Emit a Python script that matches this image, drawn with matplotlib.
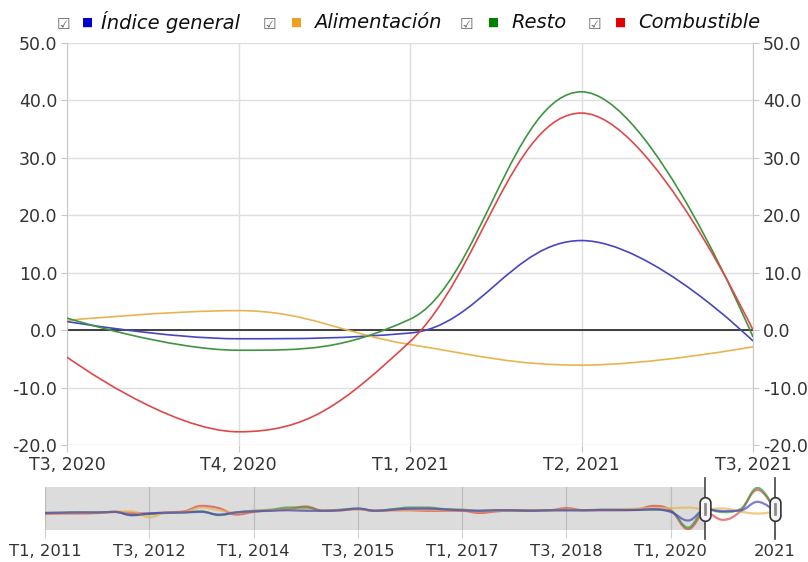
import matplotlib
matplotlib.use("Agg")
import matplotlib.pyplot as plt
import matplotlib.transforms as mtransforms
from matplotlib.path import Path
from matplotlib.patches import PathPatch
import numpy as np

# ---- data -------------------------------------------------------------
main_labels = ["T3, 2020", "T4, 2020", "T1, 2021", "T2, 2021", "T3, 2021"]
series_names = ["Índice general", "Alimentación", "Resto", "Combustible"]
series_colors = ["#4646c0", "#e8b450", "#3f943f", "#de4848"]
legend_colors = ["#0000cc", "#f0a020", "#008000", "#e00000"]

# quarterly history T1 2011 .. T3 2021 (43 quarters), read from navigator
indice_general = [-5, -4.5, -4, -4, -3, -9, -6, -4.5, -4, -3, -8, -4, -2, -1, 0,
                  -1, -1, 0, 3, -1, 1, 3, 3, 1.5, 0, -1, 0, -0.5, -1, 0,
                  0, 0, 0.5, 0.5, 0.5, 2, -3, -19, 1.5, -1.5, -0.5, 15.6, -1.9]
alimentacion = [-6, -5, -5, -4, -3, -2, -13, -4, -3, 5, 0, -5, -1, 0, 1,
                0, -1, 0, 2, -1, 0, 1, 1, 0, 0, -2, -1, -1, -0.5, 0,
                1, 0, 0.5, 1, 3, 4, 4, 5, 1.7, 3.4, -2.5, -6.1, -2.9]
resto = [-5, -4.5, -4, -4, -3, -9, -7, -5, -4, -2, -9, -4, -1, 1, 5,
         5, -1, 1, 3, -1, 2, 5, 5, 2, 1, -1, 0, 0, -1, 0,
         0, 0, 1, 1, 1, 1, -2, -32, 2.1, -3.5, 1.9, 41.5, -1.2]
combustible = [-7, -6, -6, -5, -3, -5, -6, -4, -2, 8, 4, -8, -3, 0, 2,
               7, -1, 0, 2, -1, 0, 0, -1, -1, -1, -5, -2, 0, 0, 0,
               4, 0, 0, 0, 1, 8, 0, -35, -4.7, -17.7, -2.0, 37.8, 0.0]
all_series = [indice_general, alimentacion, resto, combustible]

nav_labels = ["T1, 2011", "T3, 2012", "T1, 2014", "T3, 2015",
              "T1, 2017", "T3, 2018", "T1, 2020", "2021"]
nav_ticks = [0, 6, 12, 18, 24, 30, 36, 42]
window_start = 38   # T3 2020
window_end = 42     # T3 2021

W, H = 808, 562


def spline_path(xs, ys, smoothing=1.5):
    # highcharts style bezier spline through the points
    n = len(xs)
    left = [(xs[0], ys[0])] * n
    right = [(xs[0], ys[0])] * n
    left[-1] = (xs[-1], ys[-1])
    denom = smoothing + 1
    for i in range(1, n - 1):
        px, py = xs[i], ys[i]
        lx, ly = xs[i - 1], ys[i - 1]
        nx, ny = xs[i + 1], ys[i + 1]
        lcx = (smoothing * px + lx) / denom
        lcy = (smoothing * py + ly) / denom
        rcx = (smoothing * px + nx) / denom
        rcy = (smoothing * py + ny) / denom
        corr = ((rcy - lcy) * (rcx - px)) / (rcx - lcx) + py - rcy
        lcy += corr
        rcy += corr
        if lcy > ly and lcy > py:
            lcy = max(ly, py)
            rcy = 2 * py - lcy
        elif lcy < ly and lcy < py:
            lcy = min(ly, py)
            rcy = 2 * py - lcy
        if rcy > ny and rcy > py:
            rcy = max(ny, py)
            lcy = 2 * py - rcy
        elif rcy < ny and rcy < py:
            rcy = min(ny, py)
            lcy = 2 * py - rcy
        left[i] = (lcx, lcy)
        right[i] = (rcx, rcy)
    verts = [(xs[0], ys[0])]
    codes = [Path.MOVETO]
    for i in range(1, n):
        verts += [right[i - 1], left[i], (xs[i], ys[i])]
        codes += [Path.CURVE4] * 3
    return Path(verts, codes)


fig = plt.figure(figsize=(W / 100, H / 100), dpi=100)
plt.rcParams['font.family'] = ['DejaVu Sans']


def box(x0, y0, x1, y1):
    return [x0 / W, 1 - y1 / H, (x1 - x0) / W, (y1 - y0) / H]


# ---- main chart -------------------------------------------------------
ax = fig.add_axes(box(67, 43, 753, 445))
xm = np.arange(len(main_labels))
for vals, col in zip(all_series, series_colors):
    ym = vals[window_start:window_end + 1]
    ax.add_patch(PathPatch(spline_path(xm, ym), fill=False, edgecolor=col, lw=1.2, zorder=3))
ax.axhline(0, color="#222222", lw=1.2, zorder=2)
ax.set_xlim(0, 4)
ax.set_ylim(-20, 50)
ax.set_yticks(np.arange(-20, 51, 10))
ax.set_yticklabels([f"{v:.1f}" for v in np.arange(-20, 51, 10)])
ax.set_xticks(xm)
ax.set_xticklabels(main_labels)
ax.grid(True, color="#dedede", lw=1)
ax.set_axisbelow(True)
for s in ["top", "bottom"]:
    ax.spines[s].set_visible(False)
for s in ["left", "right"]:
    ax.spines[s].set_color("#c8c8c8")
ax.tick_params(axis="y", which="both", left=True, right=True, labelleft=True,
               labelright=True, length=4, pad=3, colors="#c8c8c8",
               labelcolor="#333333", labelsize=12.5)
ax.tick_params(axis="x", length=5, pad=3, colors="#c8c8c8",
               labelcolor="#333333", labelsize=12.5)

# ---- legend -----------------------------------------------------------
legend_pos = [(57, 82, 101), (263, 291, 314), (460, 488, 511), (588, 615, 638)]
for (cx, sx, tx), name, col in zip(legend_pos, series_names, legend_colors):
    fig.text(cx / W, 1 - 24 / H, "☑", fontsize=11, color="#666666", va="center")
    fig.text(sx / W, 1 - 22 / H, "■", fontsize=8.5, color=col, va="center")
    fig.text(tx / W, 1 - 22 / H, name, fontsize=14, style="italic",
             color="#111111", va="center")

# ---- navigator --------------------------------------------------------
nav = fig.add_axes(box(45, 487, 775, 530))
nav.set_facecolor("#dcdcdc")
xq = np.arange(len(indice_general))
nav.axvspan(window_start, window_end, color="white", zorder=0.5)
for vals, col in list(zip(all_series, series_colors))[::-1]:
    nav.add_patch(PathPatch(spline_path(xq, vals), fill=False, edgecolor=col,
                            lw=1.6, alpha=0.7, zorder=3))
nav.set_xlim(0, 42)
nav.set_ylim(-36.5, 43)
nav.set_yticks([])
nav.set_xticks(nav_ticks)
nav.set_xticklabels(nav_labels)
nav.grid(True, axis="x", color="#bdbdbd", lw=0.9)
nav.set_axisbelow(True)
for s in nav.spines.values():
    s.set_visible(False)
nav.tick_params(axis="x", length=6, pad=4, colors="#d0d0d0",
                labelcolor="#333333", labelsize=11.8)

for xv in [window_start, window_end]:
    nav.axvline(xv, ymin=-0.22, ymax=1.22, color="#444444", lw=1.2,
                clip_on=False, zorder=5)

# handle marker: stadium shape
t = np.linspace(0, np.pi, 20)
top = np.column_stack([0.5 * np.cos(t), 0.6 + 0.5 * np.sin(t)])
bot = np.column_stack([-0.5 * np.cos(t), -0.6 - 0.5 * np.sin(t)])
stadium = Path(np.vstack([top, bot, top[:1]]), closed=True)
bar = Path([(-0.12, -0.6), (0.12, -0.6), (0.12, 0.6), (-0.12, 0.6), (-0.12, -0.6)], closed=True)
nav_trans = mtransforms.blended_transform_factory(nav.transData, nav.transAxes)
for xv in [window_start, window_end]:
    nav.plot([xv], [0.5], marker=stadium, markersize=17, markerfacecolor="#f4f4f4",
             markeredgecolor="#333333", markeredgewidth=1.2, transform=nav_trans,
             clip_on=False, zorder=6)
    nav.plot([xv], [0.5], marker=bar, markersize=8, markerfacecolor="#888888",
             markeredgecolor="#888888", markeredgewidth=0.5, transform=nav_trans,
             clip_on=False, zorder=7)

fig.savefig("out.png", dpi=100)
